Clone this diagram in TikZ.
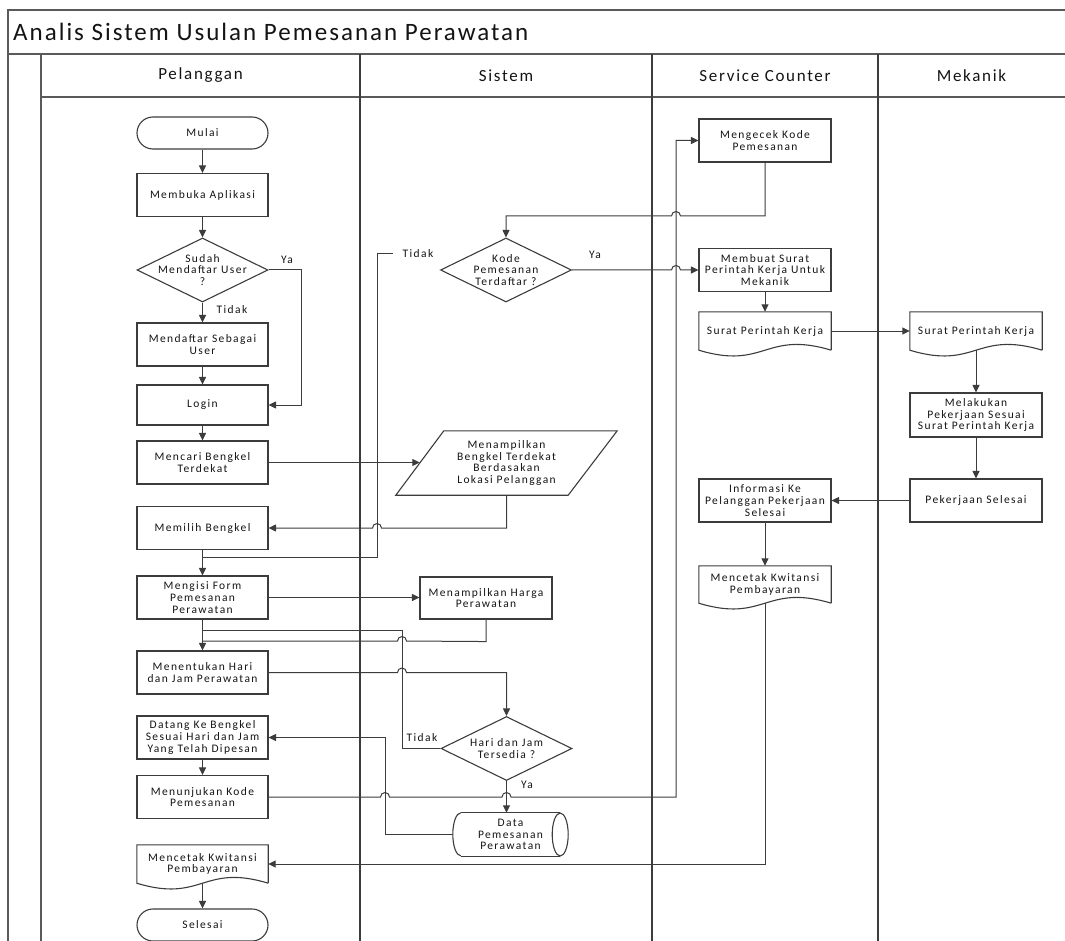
\documentclass[tikz,border=0pt]{standalone}
\usepackage{fontspec}
\setmainfont{Carlito}[LetterSpace=12]
\usetikzlibrary{arrows.meta,shapes.geometric,calc}

\definecolor{ink}{HTML}{3C3C3C}
\definecolor{rule}{HTML}{5A5A5A}
\definecolor{txt}{HTML}{141414}

\newcommand\titlesize{\fontsize{25}{29}\selectfont\addfontfeatures{LetterSpace=8}}
\newcommand\headsize{\fontsize{17}{20}\selectfont\addfontfeatures{LetterSpace=10}}
\newcommand\boxsize{\fontsize{11.5}{11.7}\selectfont}

\tikzset{
  shapeline/.style={draw=ink, line width=1.1pt},
  box/.style={shapeline, rectangle, minimum width=131pt, minimum height=43pt,
    inner sep=0pt, align=center, font=\boxsize, text=txt},
  term/.style={box, rounded corners=16pt, minimum height=32pt},
  dia/.style={shapeline, diamond, minimum width=131pt, minimum height=64pt, inner sep=0pt},
  plain/.style={draw=none, rectangle, inner sep=0pt, align=center, font=\boxsize, text=txt},
  docnode/.style={plain, minimum width=132pt, minimum height=38pt},
  lbl/.style={plain},
  conn/.style={draw=ink, line width=1pt},
  arr/.style={conn, -{Triangle[length=7.5pt,width=7pt]}},
  framel/.style={draw=rule, line width=1.6pt},
  lane/.style={draw=ink, line width=1.9pt},
  head/.style={plain, font=\headsize},
}

% document symbol with a wavy lower edge
\newcommand\docshape[1]{%
  \draw[shapeline] (#1.south east) -- (#1.north east) -- (#1.north west) -- (#1.south west)
    .. controls ($(#1.south)+(0,-20)$) and ($(#1.south)+(0,20)$) .. (#1.south east);}

\begin{document}
\begin{tikzpicture}[x=1pt,y=1pt]
\useasboundingbox (0,0) rectangle (1065,-941);

% ---- pool frame and lanes
\draw[framel] (8,-941) -- (8,-10) -- (1065,-10);
\draw[framel] (8,-54) -- (1065,-54);
\draw[framel] (41,-97) -- (1065,-97);
\draw[framel] (41,-54) -- (41,-941);
\foreach \lx in {360,652,878} \draw[lane] (\lx,-54) -- (\lx,-941);

\node[plain, font=\titlesize, anchor=west] (title) at (13,-32) {Analis Sistem Usulan Pemesanan Perawatan};
\node[head] (hPel) at (200.5,-75.5) {Pelanggan};
\node[head] (hSis) at (506,-75.5) {Sistem};
\node[head] (hSC) at (765,-75.5) {Service Counter};
\node[head] (hMek) at (971.5,-75.5) {Mekanik};

% ---- Pelanggan
\node[term] (mulai) at (202.5,-133) {Mulai};
\node[box] (buka) at (202.5,-195) {Membuka Aplikasi};
\node[dia] (sudah) at (202.5,-270) {};
\node[plain] (sudahT) at (sudah) {Sudah\\Mendaftar User\\?};
\node[box] (daftar) at (202.5,-344.5) {Mendaftar Sebagai\\User};
\node[box, minimum height=40pt] (login) at (202.5,-405) {Login};
\node[box] (cari) at (202.5,-462.5) {Mencari Bengkel\\Terdekat};
\node[box] (pilih) at (202.5,-528) {Memilih Bengkel};
\node[box] (isi) at (202.5,-597.5) {Mengisi Form\\Pemesanan\\Perawatan};
\node[box] (tentu) at (202.5,-672.5) {Menentukan Hari\\dan Jam Perawatan};
\node[box] (datang) at (202.5,-737.5) {Datang Ke Bengkel\\Sesuai Hari dan Jam\\Yang Telah Dipesan};
\node[box] (tunjuk) at (202.5,-797) {Menunjukan Kode\\Pemesanan};
\node[docnode, minimum width=131pt] (cetakP) at (202.5,-864) {Mencetak Kwitansi\\Pembayaran};
\docshape{cetakP}
\node[term] (selesai) at (202.5,-925) {Selesai};

% ---- Sistem
\node[dia] (kode) at (506,-270) {};
\node[plain] (kodeT) at (kode) {Kode\\Pemesanan\\Terdaftar ?};
\node[plain, minimum width=221pt, minimum height=64pt] (bengkel) at (506.5,-463)
  {Menampilkan\\Bengkel Terdekat\\Berdasakan\\Lokasi Pelanggan};
\draw[shapeline] ($(bengkel.north west)+(48,0)$) -- (bengkel.north east)
  -- ($(bengkel.south east)+(-49,0)$) -- (bengkel.south west) -- cycle;
\coordinate (bengkelIn) at ($(bengkel.south west)!0.5!(bengkel.north west)+(24,0)$);
\node[box, minimum width=132pt, minimum height=42pt] (harga) at (486,-598) {Menampilkan Harga\\Perawatan};
\node[dia] (hari) at (506.5,-748.5) {};
\node[plain] (hariT) at (hari) {Hari dan Jam\\Tersedia ?};
\node[plain, minimum width=115pt, minimum height=43pt] (data) at (510.5,-834.5) {Data\\Pemesanan\\Perawatan};
\draw[shapeline] ($(data.north west)+(8,0)$) -- ($(data.north east)+(-8,0)$);
\draw[shapeline] ($(data.south west)+(8,0)$) -- ($(data.south east)+(-8,0)$);
\draw[shapeline] ($(data.east)+(-8,0)$) ellipse [x radius=8, y radius=21.5];
\draw[shapeline] ($(data.north west)+(8,0)$) arc[start angle=90, end angle=270, x radius=8, y radius=21.5];

% ---- Service Counter
\node[box, minimum width=132pt] (cek) at (765,-140.5) {Mengecek Kode\\Pemesanan};
\node[box, minimum width=132pt] (buat) at (765,-270) {Membuat Surat\\Perintah Kerja Untuk\\Mekanik};
\node[docnode] (spkS) at (765,-331) {Surat Perintah Kerja};
\docshape{spkS}
\node[box, minimum width=132pt] (info) at (765,-500.5) {Informasi Ke\\Pelanggan Pekerjaan\\Selesai};
\node[docnode, minimum height=37pt] (cetakS) at (765,-584.5) {Mencetak Kwitansi\\Pembayaran};
\docshape{cetakS}

% ---- Mekanik
\node[docnode] (spkM) at (976,-331) {Surat Perintah Kerja};
\docshape{spkM}
\node[box, minimum width=132pt, minimum height=44pt] (kerja) at (976,-415) {Melakukan\\Pekerjaan Sesuai\\Surat Perintah Kerja};
\node[box, minimum width=132pt] (selesaiM) at (976,-500.5) {Pekerjaan Selesai};

% ---- connectors
\draw[arr] (mulai.south) -- (buka.north);
\draw[arr] (buka.south) -- (sudah.north);
\draw[arr] (sudah.south) -- (daftar.north);
\draw[arr] (sudah.east) -- ++(33,0) |- (login.east);
\draw[arr] (daftar.south) -- (login.north);
\draw[arr] (login.south) -- (cari.north);
\draw[arr] (cari.east) -- (cari.east -| bengkelIn);
\draw[arr] (bengkel.south) -- (bengkel.south |- pilih.east) -- (381.5,-528)
  arc[start angle=0, end angle=180, radius=4.5] -- (pilih.east);
\draw[arr] (pilih.south) -- (isi.north);
\coordinate (tidakA) at (393,-254);
\coordinate (jIsi) at (202.5,-557);
\draw[conn] (tidakA) -- (377,-254) -- (377,-557) -- (jIsi);
\draw[arr] (isi.east) -- (isi.east -| harga.west);
\coordinate (jHarga) at (202.5,-641);
\draw[conn] (harga.south) -- ++(0,-22) -- (406.5,-641)
  arc[start angle=0, end angle=180, radius=4.5] -- (jHarga);
\draw[arr] (isi.south) -- (tentu.north);
\coordinate (jHari) at (202.5,-630);
\draw[conn] (hari.west) -| (402,-630) -- (jHari);
\draw[arr] (tentu.east) -- (397.5,-672.5) arc[start angle=180, end angle=0, radius=4.5]
  -- (tentu.east -| hari.north) -- (hari.north);
\draw[arr] (hari.south) -- (hari.south |- data.north);
\draw[arr] (data.west) -| (385,-737.5) -- (datang.east);
\draw[arr] (datang.south) -- (tunjuk.north);
\draw[arr] (tunjuk.east) -- (380.5,-797) arc[start angle=180, end angle=0, radius=4.5]
  -- (502,-797) arc[start angle=180, end angle=0, radius=4.5]
  -- (676,-797) -- (676,-140.5) -- (cek.west);
\draw[arr] (cek.south) -- (765,-216) -- (680.5,-216)
  arc[start angle=0, end angle=180, radius=4.5] -- (506,-216) -- (kode.north);
\draw[arr] (kode.east) -- (671.5,-270) arc[start angle=180, end angle=0, radius=4.5] -- (buat.west);
\draw[arr] (buat.south) -- (spkS.north);
\draw[arr] (spkS.east) -- (spkM.west);
\draw[arr] (spkM.south) -- (kerja.north);
\draw[arr] (kerja.south) -- (selesaiM.north);
\draw[arr] (selesaiM.west) -- (info.east);
\draw[arr] (info.south) -- (cetakS.north);
\draw[arr] (cetakS.south) |- (cetakP.east);
\draw[arr] (cetakP.south) -- (selesai.north);

% ---- branch labels
\node[lbl] (yaSudah) at (287,-260) {Ya};
\node[lbl] (tidakSudah) at (232,-310) {Tidak};
\node[lbl] (tidakKode) at (418,-254) {Tidak};
\node[lbl] (yaKode) at (595,-255) {Ya};
\node[lbl] (tidakHari) at (422,-738) {Tidak};
\node[lbl] (yaHari) at (527,-785) {Ya};
\end{tikzpicture}
\end{document}
